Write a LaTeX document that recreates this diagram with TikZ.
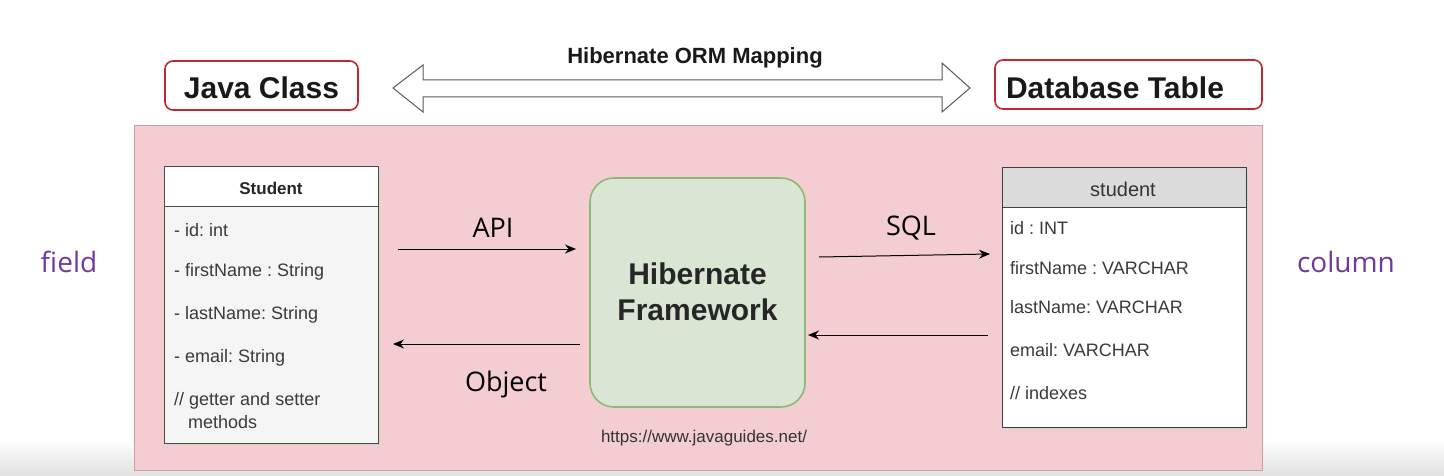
\documentclass[tikz,border=0pt]{standalone}
\usepackage{fontspec}
\setmainfont{Liberation Sans}
\newfontfamily\lblfont{Open Sans}
\frenchspacing
\usetikzlibrary{arrows.meta}
\definecolor{panelpink}{HTML}{F4CDD2}
\definecolor{panelborder}{HTML}{C9A0A6}
\definecolor{boxred}{HTML}{C0282D}
\definecolor{hibfill}{HTML}{D8E6D3}
\definecolor{hibborder}{HTML}{8DB878}
\definecolor{purplelbl}{HTML}{6F3A9E}
\definecolor{entrygray}{HTML}{3A3A3A}
\tikzset{
  titlebox/.style={draw=boxred, line width=1.6pt, rounded corners=8pt, fill=white},
  titletext/.style={font=\fontsize{30}{34}\selectfont\bfseries, text=black!90},
  entry/.style={anchor=west, font=\fontsize{18}{20}\selectfont, text=entrygray, inner sep=0pt},
  lbl/.style={font=\lblfont\fontsize{27}{30}\selectfont, text=black, inner sep=0pt},
  sidelbl/.style={font=\lblfont\fontsize{28}{30}\selectfont, text=purplelbl, inner sep=0pt},
  flow/.style={line width=1pt, -{Stealth[length=11pt,width=9pt]}},
}
\begin{document}
\begin{tikzpicture}[x=1pt,y=-1pt]
\useasboundingbox (0,0) rectangle (1444,476);
\fill[white] (0,0) rectangle (1444,476);
% bottom gray band
\shade[top color=white, bottom color=black!12] (0,440) rectangle (1444,476);

% pink panel
\draw[fill=panelpink, draw=panelborder, line width=1pt] (134,126) rectangle (1262,470);

% title boxes
\draw[titlebox] (165,61) rectangle (358,110);
\node[titletext] (jc) at (261.5,88) {Java Class};
\draw[titlebox] (995,60) rectangle (1262,109);
\node[titletext] (dt) at (1115,88) {Database Table};

% double arrow
\draw[draw=black!65, fill=white, line width=1pt]
  (393,88) -- (423,65) -- (423,80) -- (942,80) -- (942,63) -- (970,88)
  -- (942,112) -- (942,97) -- (423,97) -- (423,112) -- cycle;
\node[font=\fontsize{22}{24}\selectfont\bfseries, text=black!90] (orm) at (695,58) {Hibernate ORM Mapping};

% Student class box
\fill[black!18] (167,170) rectangle (380,445);
\draw[fill=black!4, draw=black!70, line width=1pt] (164,167) rectangle (378,443);
\draw[fill=white, draw=black!70, line width=1pt] (164,167) rectangle (378,207);
\node[font=\fontsize{17}{20}\selectfont\bfseries, text=black!85] (stu) at (271,188) {Student};
\node[entry] (s1) at (174,230) {- id: int};
\node[entry] (s2) at (174,272) {- firstName : String};
\node[entry] (s3) at (174,315) {- lastName: String};
\node[entry] (s4) at (174,358) {- email: String};
\node[entry] (s5) at (174,401) {// getter and setter};
\node[entry] (s6) at (188,422) {methods};
\coordinate (stuR1) at (398,249);
\coordinate (stuR2) at (393,344);

% student table box
\fill[black!18] (1005,171) rectangle (1248,429);
\draw[fill=white, draw=black!75, line width=1pt] (1002,168) rectangle (1246,427);
\draw[fill=black!14, draw=black!75, line width=1pt] (1002,168) rectangle (1246,208);
\node[font=\fontsize{20}{22}\selectfont, text=black!80] (tbl) at (1123,189) {student};
\node[entry] (t1) at (1010,228) {id : INT};
\node[entry] (t2) at (1010,268) {firstName : VARCHAR};
\node[entry] (t3) at (1010,307) {lastName: VARCHAR};
\node[entry] (t4) at (1010,350) {email: VARCHAR};
\node[entry] (t5) at (1010,393) {// indexes};
\coordinate (tblL1) at (990,254);
\coordinate (tblL2) at (988,335);

% Hibernate box
\draw[fill=hibfill, draw=hibborder, line width=1.6pt, rounded corners=24pt] (590,178) rectangle (805,407);
\node[font=\fontsize{30}{36}\selectfont\bfseries, text=black!85, align=center] (hib) at (697.5,292) {Hibernate\\Framework};
\coordinate (hibL1) at (576,249);
\coordinate (hibL2) at (580,344);
\coordinate (hibR1) at (819,257);
\coordinate (hibR2) at (808,335);

% flows
\draw[flow] (stuR1) -- (hibL1);
\draw[flow] (hibL2) -- (stuR2);
\draw[flow] (hibR1) -- (tblL1);
\draw[flow] (tblL2) -- (hibR2);

\node[lbl] (api) at (493,228) {API};
\node[lbl] (obj) at (506,384) {Object};
\node[lbl] (sql) at (911,228) {SQL};

\node[sidelbl] (field) at (69,262) {field};
\node[sidelbl] (col) at (1346,262) {column};

\node[font=\fontsize{17}{20}\selectfont, text=black!80] (url) at (704,438) {https://www.javaguides.net/};
\end{tikzpicture}
\end{document}
